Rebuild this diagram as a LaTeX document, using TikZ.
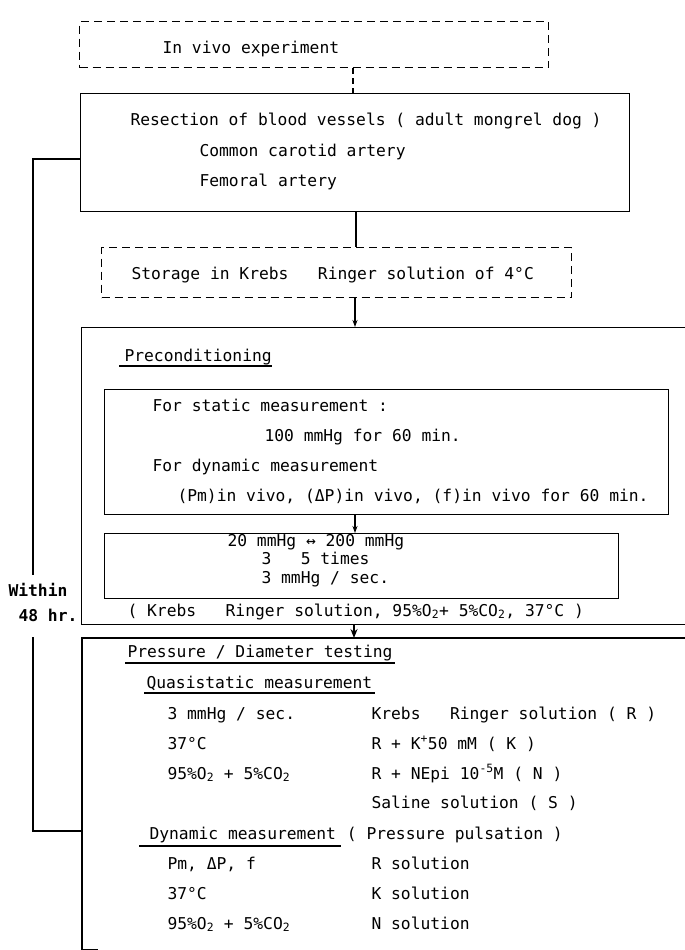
\documentclass[tikz,border=0pt]{standalone}
\usepackage{fontspec}
\setmainfont{DejaVu Sans Mono}
\usetikzlibrary{arrows.meta,calc}
\begin{document}
\begin{tikzpicture}[x=1pt,y=-1pt, line width=1.1pt,
  box/.style={draw, rectangle, anchor=north west, inner sep=0pt},
  dbox/.style={box, dash pattern=on 8pt off 5pt},
  txt/.style={anchor=base west, inner sep=0pt, font=\fontsize{16.3}{20}\selectfont},
  boldtxt/.style={txt, font=\fontsize{16.3}{20}\selectfont\bfseries},
  arr/.style={-{Stealth[length=7pt,width=5pt]}},
  bigarr/.style={-{Stealth[length=9pt,width=7pt]}, line width=1.6pt},
  dline/.style={dash pattern=on 6pt off 4pt}
]
\useasboundingbox (0,0) rectangle (685,950);

% boxes
\node[dbox, minimum width=469pt, minimum height=46pt] (b1) at (79,21) {};
\node[box, minimum width=549pt, minimum height=118pt] (b2) at (80,93) {};
\node[dbox, minimum width=470pt, minimum height=50pt] (b3) at (101,247) {};
\node[box, minimum width=620pt, minimum height=297pt] (b4) at (81,327) {};
\node[box, minimum width=564pt, minimum height=125pt] (bA) at (104,389) {};
\node[box, minimum width=514pt, minimum height=65pt] (bB) at (104,533) {};
\node[rectangle, anchor=north west, inner sep=0pt, minimum width=620pt, minimum height=310pt] (b5) at (82,638) {};
\draw (b5.north east) -- (b5.north west) -- (b5.south west) -- ++(16,0);

% connector x positions
\coordinate (cx1) at (353,0);
\coordinate (cx2) at (356,0);
\coordinate (cx3) at (355,0);
\coordinate (cx4) at (354,0);
\draw[dline] (b1.south -| cx1) -- (b2.north -| cx1);
\draw (b2.south -| cx2) -- (b3.north -| cx2);
\draw[arr] (b3.south -| cx3) -- (b4.north -| cx3);
\draw[arr] (bA.south -| cx3) -- (bB.north -| cx3);
\draw[bigarr] (b4.south -| cx4) -- (b5.north -| cx4);

% left bracket
\coordinate (L1) at (33,159);
\coordinate (g1) at (33,575);
\coordinate (g2) at (33,637);
\coordinate (L2) at (33,831);
\draw (b2.west |- L1) -- (L1) -- (g1);
\draw (g2) -- (L2) -- (b5.west |- L2);
\node[boldtxt] (w1) at (8,596) {Within};
\node[boldtxt] (w2) at (18,621) {48 hr.};

% texts
\node[txt] (t1) at (162,53) {In vivo experiment};
\node[txt] (t2) at (130,125) {Resection of blood vessels ( adult mongrel dog )};
\node[txt] (t3) at (199,156) {Common carotid artery};
\node[txt] (t4) at (199,186) {Femoral artery};
\node[txt] (t5) at (131,279) {Storage in Krebs~~~Ringer solution of 4°C};

\node[txt] (p1) at (124,361) {Preconditioning};
\draw ($(p1.base west)+(-5,5)$) -- ($(p1.base east)+(0,5)$);
\node[txt] (p2) at (152,411) {For static measurement :};
\node[txt] (p3) at (264,441) {100 mmHg for 60 min.};
\node[txt] (p4) at (152,471) {For dynamic measurement};
\node[txt] (p5) at (177,501) {(Pm)in vivo, (ΔP)in vivo, (f)in vivo for 60 min.};
\node[txt] (p6) at (227,546) {20 mmHg ↔ 200 mmHg};
\node[txt] (p7) at (261,564) {3~~~5 times};
\node[txt] (p8) at (261,583) {3 mmHg / sec.};
\node[txt] (p9) at (127,616) {( Krebs~~~Ringer solution, 95\%O\textsubscript{2}+ 5\%CO\textsubscript{2}, 37°C )};

\node[txt] (q1) at (127,657) {Pressure / Diameter testing};
\draw ($(q1.base west)+(-2,6)$) -- ($(q1.base east)+(2,6)$);
\node[txt] (q2) at (146,688) {Quasistatic measurement};
\draw ($(q2.base west)+(-2,5)$) -- ($(q2.base east)+(2,5)$);
\node[txt] (q3) at (167,719) {3 mmHg / sec.};
\node[txt] (q4) at (371,719) {Krebs~~~Ringer solution ( R )};
\node[txt] (q5) at (167,749) {37°C};
\node[txt] (q6) at (371,749) {R + K\textsuperscript{+}50 mM ( K )};
\node[txt] (q7) at (167,779) {95\%O\textsubscript{2} + 5\%CO\textsubscript{2}};
\node[txt] (q8) at (371,779) {R + NEpi 10\textsuperscript{-5}M ( N )};
\node[txt] (q9) at (371,808) {Saline solution ( S )};
\node[txt] (d1) at (149,839) {Dynamic measurement};
\draw ($(d1.base west)+(-10,7)$) -- ($(d1.base east)+(4,7)$);
\node[txt] (d2) at ($(d1.base east)+(9.8,0)$) {( Pressure pulsation )};
\node[txt] (d3) at (167,869) {Pm, ΔP, f};
\node[txt] (d4) at (371,869) {R solution};
\node[txt] (d5) at (167,899) {37°C};
\node[txt] (d6) at (371,899) {K solution};
\node[txt] (d7) at (167,929) {95\%O\textsubscript{2} + 5\%CO\textsubscript{2}};
\node[txt] (d8) at (371,929) {N solution};
\end{tikzpicture}
\end{document}
